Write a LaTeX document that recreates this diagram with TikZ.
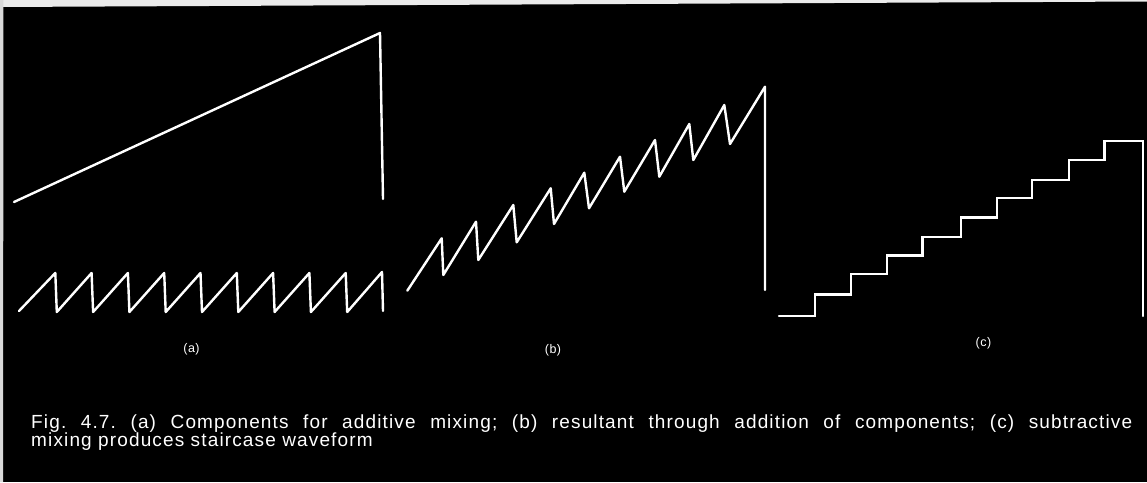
\documentclass[tikz,border=0pt]{standalone}
\usepackage{fontspec}
\newfontfamily\capfont[LetterSpace=6]{Liberation Sans}
\newfontfamily\labfont[LetterSpace=4]{Liberation Sans}
\frenchspacing
\begin{document}
\begin{tikzpicture}[x=1pt,y=-1pt,
  wave/.style={draw=white,line width=2.4pt,line join=round,line cap=round},
  sublabel/.style={text=white,font=\labfont\fontsize{12.5}{13}\selectfont,inner sep=0pt},
  captionline/.style={text=white,font=\capfont\fontsize{19}{18}\selectfont\frenchspacing,inner sep=0pt,anchor=base west}]
\useasboundingbox (0,0) rectangle (1147,482);
\fill[black] (0,0) rectangle (1147,482);
% scan edges
\fill[white!92!black] (0,0) -- (1147,0) -- (1147,1.5) -- (0,7) -- cycle;
\fill[white!85!black] (0,0) -- (3.5,0) -- (3,482) -- (0,482) -- cycle;

% (a) large ramp
\draw[wave] (14,202) -- (380,33) -- (383,199);
% (a) sawtooth
\draw[wave] (19,311)
  \foreach \k in {1,...,9}{ -- ({19+36.3*\k},273) -- ({19+36.3*\k+1.5},312) }
  -- (382,272) -- (383,311);

% (b) resultant
\draw[wave] (407.3,290.7) -- (441.7,238.3) -- (443.3,275)
  -- (476,221.7) -- (478.3,260)
  -- (513.3,205) -- (516.7,242.3)
  -- (550.7,188.3) -- (554,224)
  -- (584.3,172.7) -- (589,208.3)
  -- (620,156.7) -- (624.3,191.7)
  -- (655,140) -- (659.3,176.7)
  -- (689.3,124) -- (693.3,160)
  -- (724.3,105) -- (730,144)
  -- (765,86.7) -- (765,290);

% (c) staircase
\draw[wave,line join=miter] (779,316) -- (815,316) -- (815,294.3)
  -- (850.7,294.3) -- (850.7,274)
  -- (886.7,274) -- (886.7,255.3)
  -- (922.3,255.3) -- (922.3,236.7)
  -- (961,236.7) -- (961,217.3)
  -- (996.7,217.3) -- (996.7,198)
  -- (1031.7,198) -- (1031.7,179.7)
  -- (1069,179.7) -- (1069,160)
  -- (1104.3,160) -- (1104.3,140.7)
  -- (1142.7,140.7) -- (1142.7,316);

% sub-labels
\node[sublabel] (la) at (191.5,349) {(a)};
\node[sublabel] (lb) at (553,350) {(b)};
\node[sublabel] (lc) at (983.5,343.5) {(c)};

% caption
\node[captionline] (cap1) at (31,428.3) {\makebox[1101pt][s]{Fig. 4.7. (a) Components for additive mixing; (b) resultant through addition of components; (c) subtractive}};
\node[captionline] (cap2) at (31,446.3) {mixing produces staircase waveform};
\end{tikzpicture}
\end{document}
